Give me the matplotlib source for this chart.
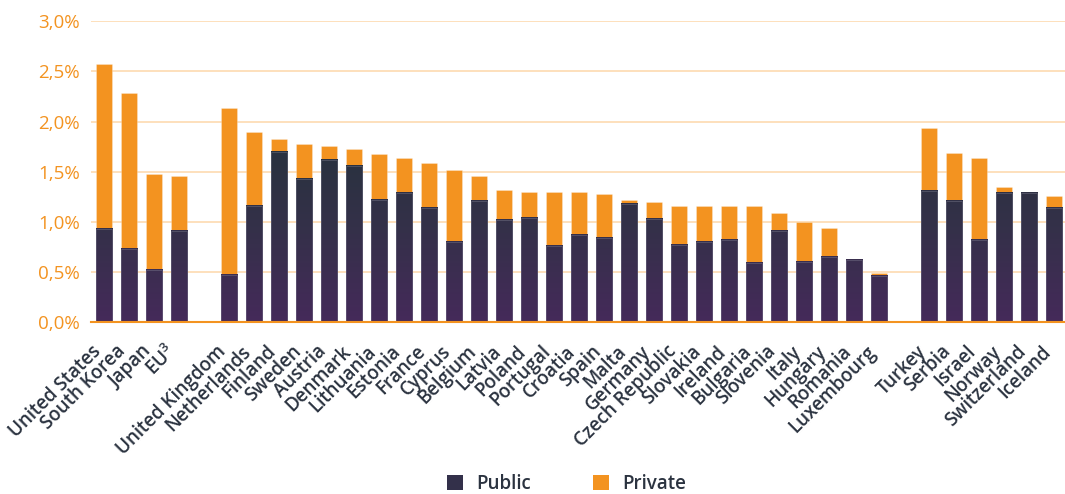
import numpy as np
import matplotlib
matplotlib.use("Agg")
import matplotlib.pyplot as plt
import matplotlib.transforms as mtransforms
from matplotlib.colors import LinearSegmentedColormap
from matplotlib.patches import Patch
from matplotlib.ticker import FuncFormatter

plt.rcParams['font.family'] = ['Open Sans', 'DejaVu Sans']

# three groups of countries, gap between groups
group1 = ["United States", "South Korea", "Japan", r"EU$^{\mathregular{3}}$"]
public1 = [0.93, 0.73, 0.52, 0.91]
private1 = [1.64, 1.55, 0.96, 0.55]

group2 = ["United Kingdom", "Netherlands", "Finland", "Sweden", "Austria", "Denmark",
          "Lithuania", "Estonia", "France", "Cyprus", "Belgium", "Latvia", "Poland",
          "Portugal", "Croatia", "Spain", "Malta", "Germany", "Czech Republic",
          "Slovakia", "Ireland", "Bulgaria", "Slovenia", "Italy", "Hungary",
          "Romania", "Luxembourg"]
public2 = [0.47, 1.16, 1.70, 1.43, 1.62, 1.56, 1.22, 1.29, 1.14, 0.80, 1.21, 1.02, 1.04,
           0.76, 0.87, 0.84, 1.18, 1.03, 0.77, 0.80, 0.82, 0.59, 0.91, 0.60, 0.65,
           0.62, 0.46]
private2 = [1.66, 0.74, 0.13, 0.35, 0.14, 0.17, 0.46, 0.35, 0.45, 0.72, 0.25, 0.30, 0.26,
            0.54, 0.43, 0.44, 0.04, 0.17, 0.39, 0.36, 0.34, 0.57, 0.18, 0.40, 0.29,
            0.01, 0.03]

group3 = ["Turkey", "Serbia", "Israel", "Norway", "Switzerland", "Iceland"]
public3 = [1.31, 1.21, 0.82, 1.29, 1.29, 1.14]
private3 = [0.63, 0.48, 0.82, 0.06, 0.00, 0.12]

ORANGE = "#F39320"
GRID = "#FDDAB0"
TEXT = "#2B3340"

labels = group1 + group2 + group3
public = np.array(public1 + public2 + public3)
private = np.array(private1 + private2 + private3)
pos = np.concatenate([np.arange(len(group1)),
                      np.arange(len(group2)) + len(group1) + 1,
                      np.arange(len(group3)) + len(group1) + len(group2) + 2])

fig = plt.figure(figsize=(10.65, 4.94), dpi=100)
ax = fig.add_axes([0.0854, 0.348, 0.9146, 0.609])

w = 0.65
ax.bar(pos, private, w, bottom=public, color=ORANGE, edgecolor=(1, 1, 1, 0.35),
       linewidth=0.5, zorder=2)

# public bars with vertical gradient (purple at bottom, navy higher up)
cmap = LinearSegmentedColormap.from_list("pub", ["#452A5A", "#35304A", "#28323E"])
grad = np.linspace(0, 1, 256).reshape(-1, 1)
for x, h in zip(pos, public):
    frac = min(h / 1.75, 1.0)
    ax.imshow(grad[: max(int(frac * 256), 2)], cmap=cmap, vmin=0, vmax=1,
              extent=(x - w / 2, x + w / 2, 0, h), origin="lower",
              aspect="auto", interpolation="bilinear", zorder=2)
    ax.add_patch(plt.Rectangle((x - w / 2, 0), w, h, facecolor="none",
                               edgecolor=(0.55, 0.55, 0.62, 0.5), linewidth=0.5, zorder=3))

ax.set_xlim(-0.52, 38.44)
ax.set_ylim(0, 3.0)
ax.set_yticks(np.arange(0, 3.01, 0.5))
ax.yaxis.set_major_formatter(FuncFormatter(lambda v, p: f"{v:.1f}%".replace(".", ",")))
ax.grid(axis="y", color=GRID, linewidth=1.2, zorder=0)
ax.set_axisbelow(True)
for s in ["top", "right", "left"]:
    ax.spines[s].set_visible(False)
ax.spines["bottom"].set_color(ORANGE)
ax.spines["bottom"].set_linewidth(1.5)
ax.spines["bottom"].set_zorder(4)
ax.tick_params(axis="y", length=0, pad=8, labelcolor=ORANGE, labelsize=13.5)
ax.tick_params(axis="x", length=0, pad=4)
ax.set_xticks(pos)
ax.set_xticklabels(labels, rotation=45, ha="right", rotation_mode="anchor",
                   color=TEXT, fontsize=13.5, fontweight="semibold")
shift = mtransforms.ScaledTranslation(-13 / 100, -14 / 100, fig.dpi_scale_trans)
for lab in ax.get_xticklabels():
    lab.set_transform(lab.get_transform() + shift)

handles = [Patch(facecolor="#33304A", label="Public"),
           Patch(facecolor=ORANGE, label="Private")]
fig.legend(handles=handles, loc="center", bbox_to_anchor=(0.532, 0.02), ncol=2,
           frameon=False, prop={"size": 13.5, "weight": "semibold"},
           handlelength=0.85, handleheight=0.85,
           handletextpad=0.7, columnspacing=3.3, labelcolor=TEXT)

fig.savefig("out.png", dpi=100)
